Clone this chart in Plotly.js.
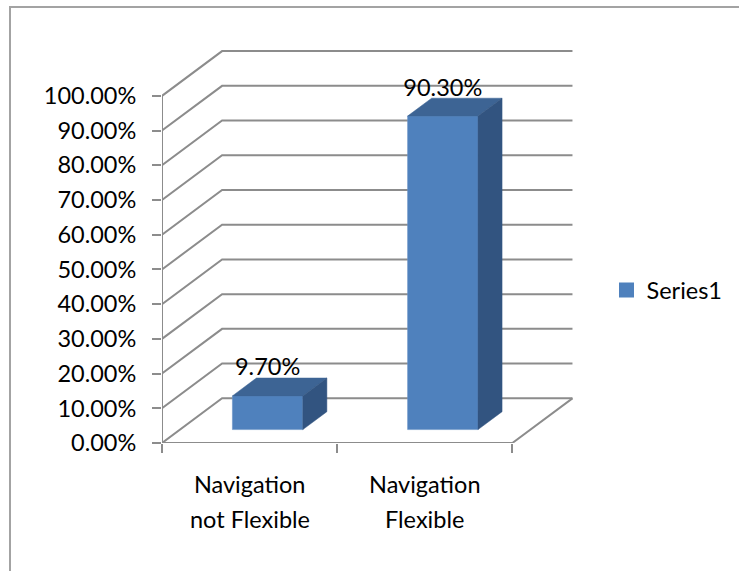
<!DOCTYPE html>
<html>
<head>
<meta charset="utf-8">
<script src="https://cdn.plot.ly/plotly-3.0.1.min.js"></script>
<style>html,body{margin:0;padding:0;background:#fff}</style>
</head>
<body>
<div id="chart" style="width:739px;height:571px"></div>
<script>
// Chart values
const seriesName = 'Series1';
const categoriesFirstLine = ['Navigation', 'Navigation'];
const categoriesSecondLine = ['not Flexible', 'Flexible'];
const values = [9.7, 90.3];
const yTicks = [0, 10, 20, 30, 40, 50, 60, 70, 80, 90, 100];

// Colours
const FRONT = '#4f81bd', TOP = '#3d6494', SIDE = '#325480', GRID = '#8c8c8c', FRAME = '#a3a3a3';
const FONT = {family: 'Lato, Carlito, sans-serif', size: 23.5, color: '#000'};

// Oblique projection: a point (category position, value, depth 0..1) is sheared onto the plane
const DEPTH_X = 0.343, DEPTH_Y = 12.88;
const px = (c, d) => c + d * DEPTH_X;
const py = (v, d) => v + d * DEPTH_Y;

const BAR_WIDTH = 0.402, BAR_NEAR = 0.3, BAR_FAR = 0.7, LABEL_LIFT = 7.6;
const nCats = values.length;
const X_RANGE = [0, px(nCats, 1) + 0.003], Y_RANGE = [0, 113.2];

// Back walls and floor, one polyline per value tick (bottom axes, drawn first)
const wallX = [], wallY = [];
yTicks.forEach(t => {
  wallX.push(px(0, 0), px(0, 1), px(nCats, 1), null);
  wallY.push(py(t, 0), py(t, 1), py(t, 1), null);
});
wallX.push(px(0, 0), px(nCats, 0), px(nCats, 1), null, px(0, 0), px(0, 0));
wallY.push(py(0, 0), py(0, 0), py(0, 1), null, py(0, 0), py(yTicks[yTicks.length - 1], 0));

const traces = [{
  type: 'scatter', mode: 'lines', x: wallX, y: wallY, showlegend: false, hoverinfo: 'skip',
  line: {color: GRID, width: 2}
}];

// Bars live on overlaying axes so they paint above the wall lines
const centers = values.map((_, i) => i + 0.5 + BAR_NEAR * DEPTH_X);
traces.push({
  type: 'bar', xaxis: 'x2', yaxis: 'y2', x: centers, y: values, base: py(0, BAR_NEAR), width: BAR_WIDTH,
  marker: {color: FRONT, line: {color: '#6a94c8', width: 0.6}}, showlegend: false, hoverinfo: 'x+y'
});

// Depth faces of each bar
const face = (xs, ys, color) => ({
  type: 'scatter', mode: 'lines', xaxis: 'x2', yaxis: 'y2', x: xs, y: ys, fill: 'toself', fillcolor: color,
  line: {color: color, width: 0.5}, showlegend: false, hoverinfo: 'skip'
});
values.forEach((v, i) => {
  const l = i + 0.5 - BAR_WIDTH / 2, r = i + 0.5 + BAR_WIDTH / 2;
  traces.push(face(
    [px(l, BAR_NEAR), px(r, BAR_NEAR), px(r, BAR_FAR), px(l, BAR_FAR), px(l, BAR_NEAR)],
    [v + py(0, BAR_NEAR), v + py(0, BAR_NEAR), v + py(0, BAR_FAR), v + py(0, BAR_FAR), v + py(0, BAR_NEAR)],
    TOP));
  traces.push(face(
    [px(r, BAR_NEAR), px(r, BAR_FAR), px(r, BAR_FAR), px(r, BAR_NEAR), px(r, BAR_NEAR)],
    [py(0, BAR_NEAR), py(0, BAR_FAR), v + py(0, BAR_FAR), v + py(0, BAR_NEAR), py(0, BAR_NEAR)],
    SIDE));
});

// Value labels
traces.push({
  type: 'scatter', mode: 'text', xaxis: 'x2', yaxis: 'y2', x: centers, y: values.map(v => v + py(0, BAR_NEAR) + LABEL_LIFT),
  text: values.map(v => v.toFixed(2) + '%'), textposition: 'middle center',
  textfont: FONT, showlegend: false, hoverinfo: 'skip', cliponaxis: false
});

// Legend entry
traces.push({
  type: 'scatter', mode: 'markers', name: seriesName, x: [null], y: [null],
  marker: {symbol: 'square', size: 15, color: FRONT}, showlegend: true
});

// Second line of each category label
const annotations = categoriesSecondLine.map((t, i) => ({
  text: t, x: i + 0.5, xref: 'x', y: 0, yref: 'y', yanchor: 'middle', xanchor: 'center',
  yshift: -76, showarrow: false, font: FONT
}));

const M = {l: 162, r: 166, t: 50, b: 128.3};
const W = 739, H = 571;
const paperX = p => (p - M.l) / (W - M.l - M.r);
const paperY = p => 1 - (p - M.t) / (H - M.t - M.b);

const layout = {
  width: W, height: H, margin: M, paper_bgcolor: '#fff', plot_bgcolor: 'rgba(0,0,0,0)',
  font: FONT, barmode: 'overlay',
  xaxis: {
    range: X_RANGE, showgrid: false, zeroline: false, showline: false,
    tickmode: 'array', tickvals: values.map((_, i) => i + 0.5), ticktext: categoriesFirstLine,
    ticks: '', ticklabelstandoff: 25, tickfont: FONT, fixedrange: true,
    minor: {tickmode: 'array', tickvals: [0, 1, 2], ticks: 'outside', ticklen: 9, tickwidth: 2, tickcolor: GRID, showgrid: false}
  },
  yaxis: {
    range: Y_RANGE, showgrid: false, zeroline: false, showline: false,
    tickmode: 'array', tickvals: yTicks, ticktext: yTicks.map(t => t.toFixed(2) + '%'),
    ticks: 'outside', ticklen: 9, tickwidth: 2, tickcolor: GRID, tickfont: FONT,
    ticklabelstandoff: 11, fixedrange: true
  },
  xaxis2: {overlaying: 'x', range: X_RANGE, visible: false, fixedrange: true},
  yaxis2: {overlaying: 'y', range: Y_RANGE, visible: false, fixedrange: true},
  legend: {x: paperX(606.5), y: paperY(290), xanchor: 'left', yanchor: 'middle', font: FONT, bgcolor: 'rgba(0,0,0,0)', borderwidth: 0},
  annotations: annotations,
  shapes: [{
    type: 'path', xref: 'paper', yref: 'paper', layer: 'below',
    path: `M ${paperX(10)} ${paperY(571)} L ${paperX(10)} ${paperY(7)} L ${paperX(739)} ${paperY(7)}`,
    line: {color: FRAME, width: 2}
  }]
};

Plotly.newPlot('chart', traces, layout, {displayModeBar: false});
</script>
</body>
</html>
